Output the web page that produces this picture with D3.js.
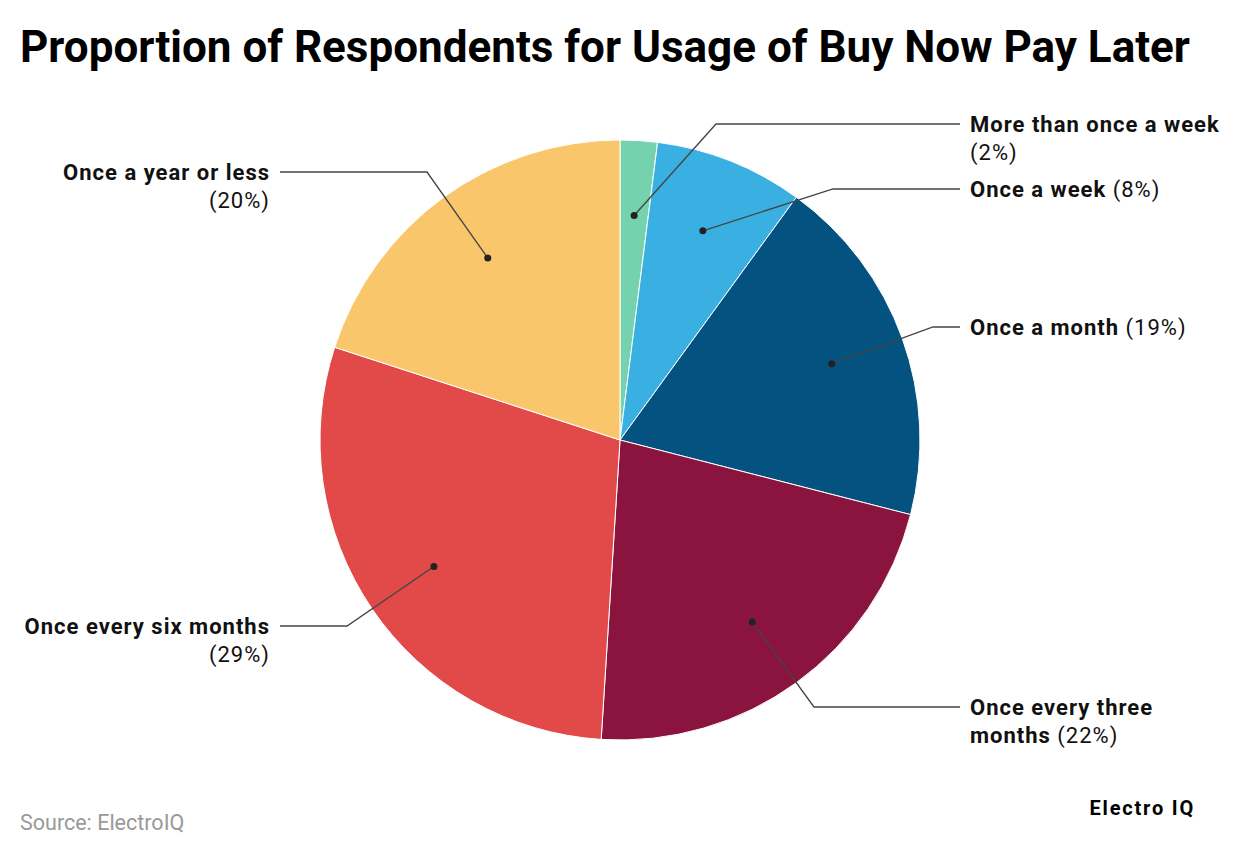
<!DOCTYPE html>
<html><head><meta charset="utf-8">
<script src="https://cdn.jsdelivr.net/npm/d3@7"></script>
<style>body{margin:0;background:#fff;font-family:Roboto,sans-serif}</style>
</head><body>
<svg id="c" width="1240" height="856"></svg>
<script>
const categories = ["More than once a week","Once a week","Once a month","Once every three months","Once every six months","Once a year or less"];
const values = [2, 8, 19, 22, 29, 20];
const colors = ["#74d3ae","#3ab0e2","#045280","#8a143e","#e24a4a","#fac66b"];
const labelLines = [["More than once a week"],["Once a week"],["Once a month"],["Once every three","months"],["Once every six months"],["Once a year or less"]];
const labelY = [124, 189, 327, 707, 626, 172];
const elbowX = [716, 833, 933, 814, 347, 427];
const side = [1,1,1,1,-1,-1];

const svg = d3.select("#c");
const cx = 620, cy = 440, r = 300;
svg.append("text").attr("x",20).attr("y",62).attr("font-size",44).attr("font-weight",700).attr("fill","#000")
  .text("Proportion of Respondents for Usage of Buy Now Pay Later");

const pie = d3.pie().sort(null).value(d=>d)(values);
const arc = d3.arc().innerRadius(0).outerRadius(r);
const inner = d3.arc().innerRadius(r*0.75).outerRadius(r*0.75);
const g = svg.append("g").attr("transform",`translate(${cx},${cy})`);
g.selectAll("path").data(pie).join("path").attr("d",arc).attr("fill",(d,i)=>colors[i]).attr("stroke","#fff").attr("stroke-width",1);

pie.forEach((d,i)=>{
  const [px,py] = inner.centroid(d);
  const x0 = cx+px, y0 = cy+py;
  const endX = side[i]>0 ? 960 : 280;
  svg.append("polyline").attr("points",`${x0},${y0} ${elbowX[i]},${labelY[i]} ${endX},${labelY[i]}`)
    .attr("fill","none").attr("stroke","#444").attr("stroke-width",1.3);
  svg.append("circle").attr("cx",x0).attr("cy",y0).attr("r",3.5).attr("fill","#222");
  const tx = side[i]>0 ? 970 : 270;
  const t = svg.append("text").attr("x",tx).attr("y",labelY[i]+8).attr("font-size",22).attr("letter-spacing",1.0).attr("fill","#111")
    .attr("text-anchor",side[i]>0?"start":"end");
  const lines = labelLines[i];
  const pct = `(${values[i]}%)`;
  lines.forEach((ln,k)=>{
    t.append("tspan").attr("x",tx).attr("dy",k===0?0:28).attr("font-weight",700).text(ln);
  });
  if(lines.length===2 || i===1 || i===2){ t.append("tspan").attr("font-weight",400).text(" "+pct); }
  else { t.append("tspan").attr("x",tx).attr("dy",28).attr("font-weight",400).text(pct); }
});

svg.append("text").attr("x",20).attr("y",830).attr("font-size",21.5).attr("fill","#999").text("Source: ElectroIQ");
svg.append("text").attr("x",1195).attr("y",815).attr("font-size",20).attr("font-weight",700).attr("text-anchor","end").attr("fill","#000").attr("letter-spacing",1.8).text("Electro IQ");
</script>
</body></html>
